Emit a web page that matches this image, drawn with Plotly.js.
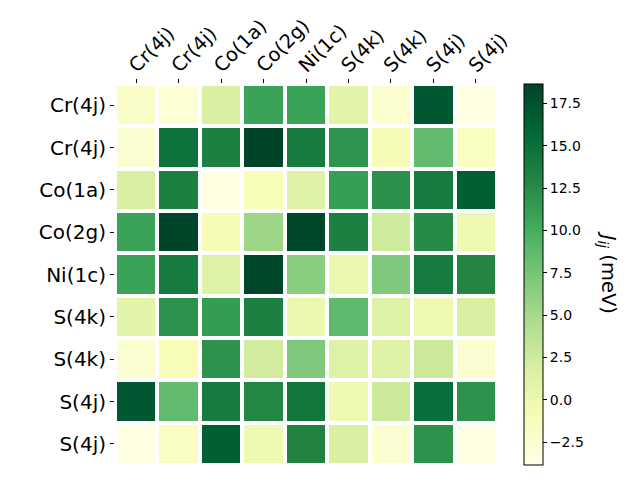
<!DOCTYPE html>
<html>
<head>
<meta charset="utf-8">
<script src="https://cdn.plot.ly/plotly-3.0.1.min.js"></script>
<style>html,body{margin:0;padding:0;background:#fff;}#chart{width:640px;height:480px;}</style>
</head>
<body>
<div id="chart"></div>
<script>
const siteLabels = ["Cr(4j)", "Cr(4j)", "Co(1a)", "Co(2g)", "Ni(1c)", "S(4k)", "S(4k)", "S(4j)", "S(4j)"];
const row0 = [-2.0, -2.7, 1.8, 10.8, 10.8, 0.9, -2.3, 17.1, -3.8];
const row1 = [-2.5, 14.6, 13.5, 18.6, 14.0, 11.9, -0.9, 8.5, -1.6];
const row2 = [1.8, 13.5, -3.8, -1.0, 1.3, 11.2, 12.1, 14.0, 16.6];
const row3 = [10.8, 18.6, -0.9, 5.4, 18.5, 13.5, 2.5, 12.6, -0.2];
const row4 = [10.8, 14.0, 1.3, 18.5, 6.5, 0.2, 7.0, 14.0, 13.0];
const row5 = [0.9, 12.0, 11.3, 13.5, 0.0, 8.8, 1.3, -0.2, 1.8];
const row6 = [-2.5, -1.0, 12.0, 2.3, 7.0, 1.3, 1.3, 2.7, -2.5];
const row7 = [17.1, 8.5, 14.0, 12.8, 14.4, -0.3, 2.7, 15.0, 12.0];
const row8 = [-3.8, -1.7, 16.6, -0.3, 13.2, 1.8, -2.5, 12.0, -3.8];
const zMin = -3.84;
const zMax = 18.64;
const cbTicks = [-2.5, 0, 2.5, 5, 7.5, 10, 12.5, 15, 17.5];

const zData = [row0, row1, row2, row3, row4, row5, row6, row7, row8];
const idx = siteLabels.map((_, i) => i);

const ylgn = [
  [0.0, '#ffffe5'], [0.125, '#f7fcb9'], [0.25, '#d9f0a3'], [0.375, '#addd8e'],
  [0.5, '#78c679'], [0.625, '#41ab5d'], [0.75, '#238443'], [0.875, '#006837'], [1.0, '#004529']
];

const trace = {
  type: 'heatmap',
  z: zData,
  x: idx,
  y: idx,
  colorscale: ylgn,
  zmin: zMin,
  zmax: zMax,
  xgap: 4,
  ygap: 4,
  colorbar: {
    thickness: 19,
    len: 1,
    lenmode: 'fraction',
    y: 0.5,
    yanchor: 'middle',
    x: 1.0707,
    xanchor: 'left',
    xpad: 0,
    ypad: 0,
    outlinewidth: 1,
    outlinecolor: '#000',
    ticks: 'outside',
    ticklen: 4,
    tickwidth: 1,
    tickcolor: '#000',
    tickvals: cbTicks,
    tickformat: '.1f',
    tickfont: {family: 'DejaVu Sans', size: 14, color: '#000'}
  }
};

const layout = {
  width: 640,
  height: 480,
  margin: {l: 115, r: 143, t: 84, b: 15},
  paper_bgcolor: '#fff',
  plot_bgcolor: '#fff',
  font: {family: 'DejaVu Sans', color: '#000'},
  xaxis: {
    side: 'top',
    range: [-0.5, 8.5],
    tickvals: idx,
    ticktext: siteLabels,
    tickangle: -45,
    ticks: 'outside',
    ticklen: 4,
    tickcolor: '#000',
    ticklabelshift: -6,
    ticklabelstandoff: -5,
    showgrid: false,
    zeroline: false,
    showline: false,
    tickfont: {family: 'DejaVu Sans', size: 19.4, color: '#000'}
  },
  yaxis: {
    range: [8.5, -0.5],
    tickvals: idx,
    ticktext: siteLabels,
    ticks: 'outside',
    ticklen: 4,
    tickcolor: '#000',
    showgrid: false,
    zeroline: false,
    showline: false,
    tickfont: {family: 'DejaVu Sans', size: 20, color: '#000'}
  },
  annotations: [{
    text: '<i>J</i><sub><i>ij</i></sub> (meV)',
    xref: 'paper', yref: 'paper',
    x: 1.288, y: 0.507,
    xanchor: 'center', yanchor: 'middle',
    textangle: 90,
    showarrow: false,
    font: {family: 'DejaVu Sans', size: 19.5, color: '#000'}
  }]
};

Plotly.newPlot('chart', [trace], layout, {displayModeBar: false, staticPlot: true});
</script>
</body>
</html>
